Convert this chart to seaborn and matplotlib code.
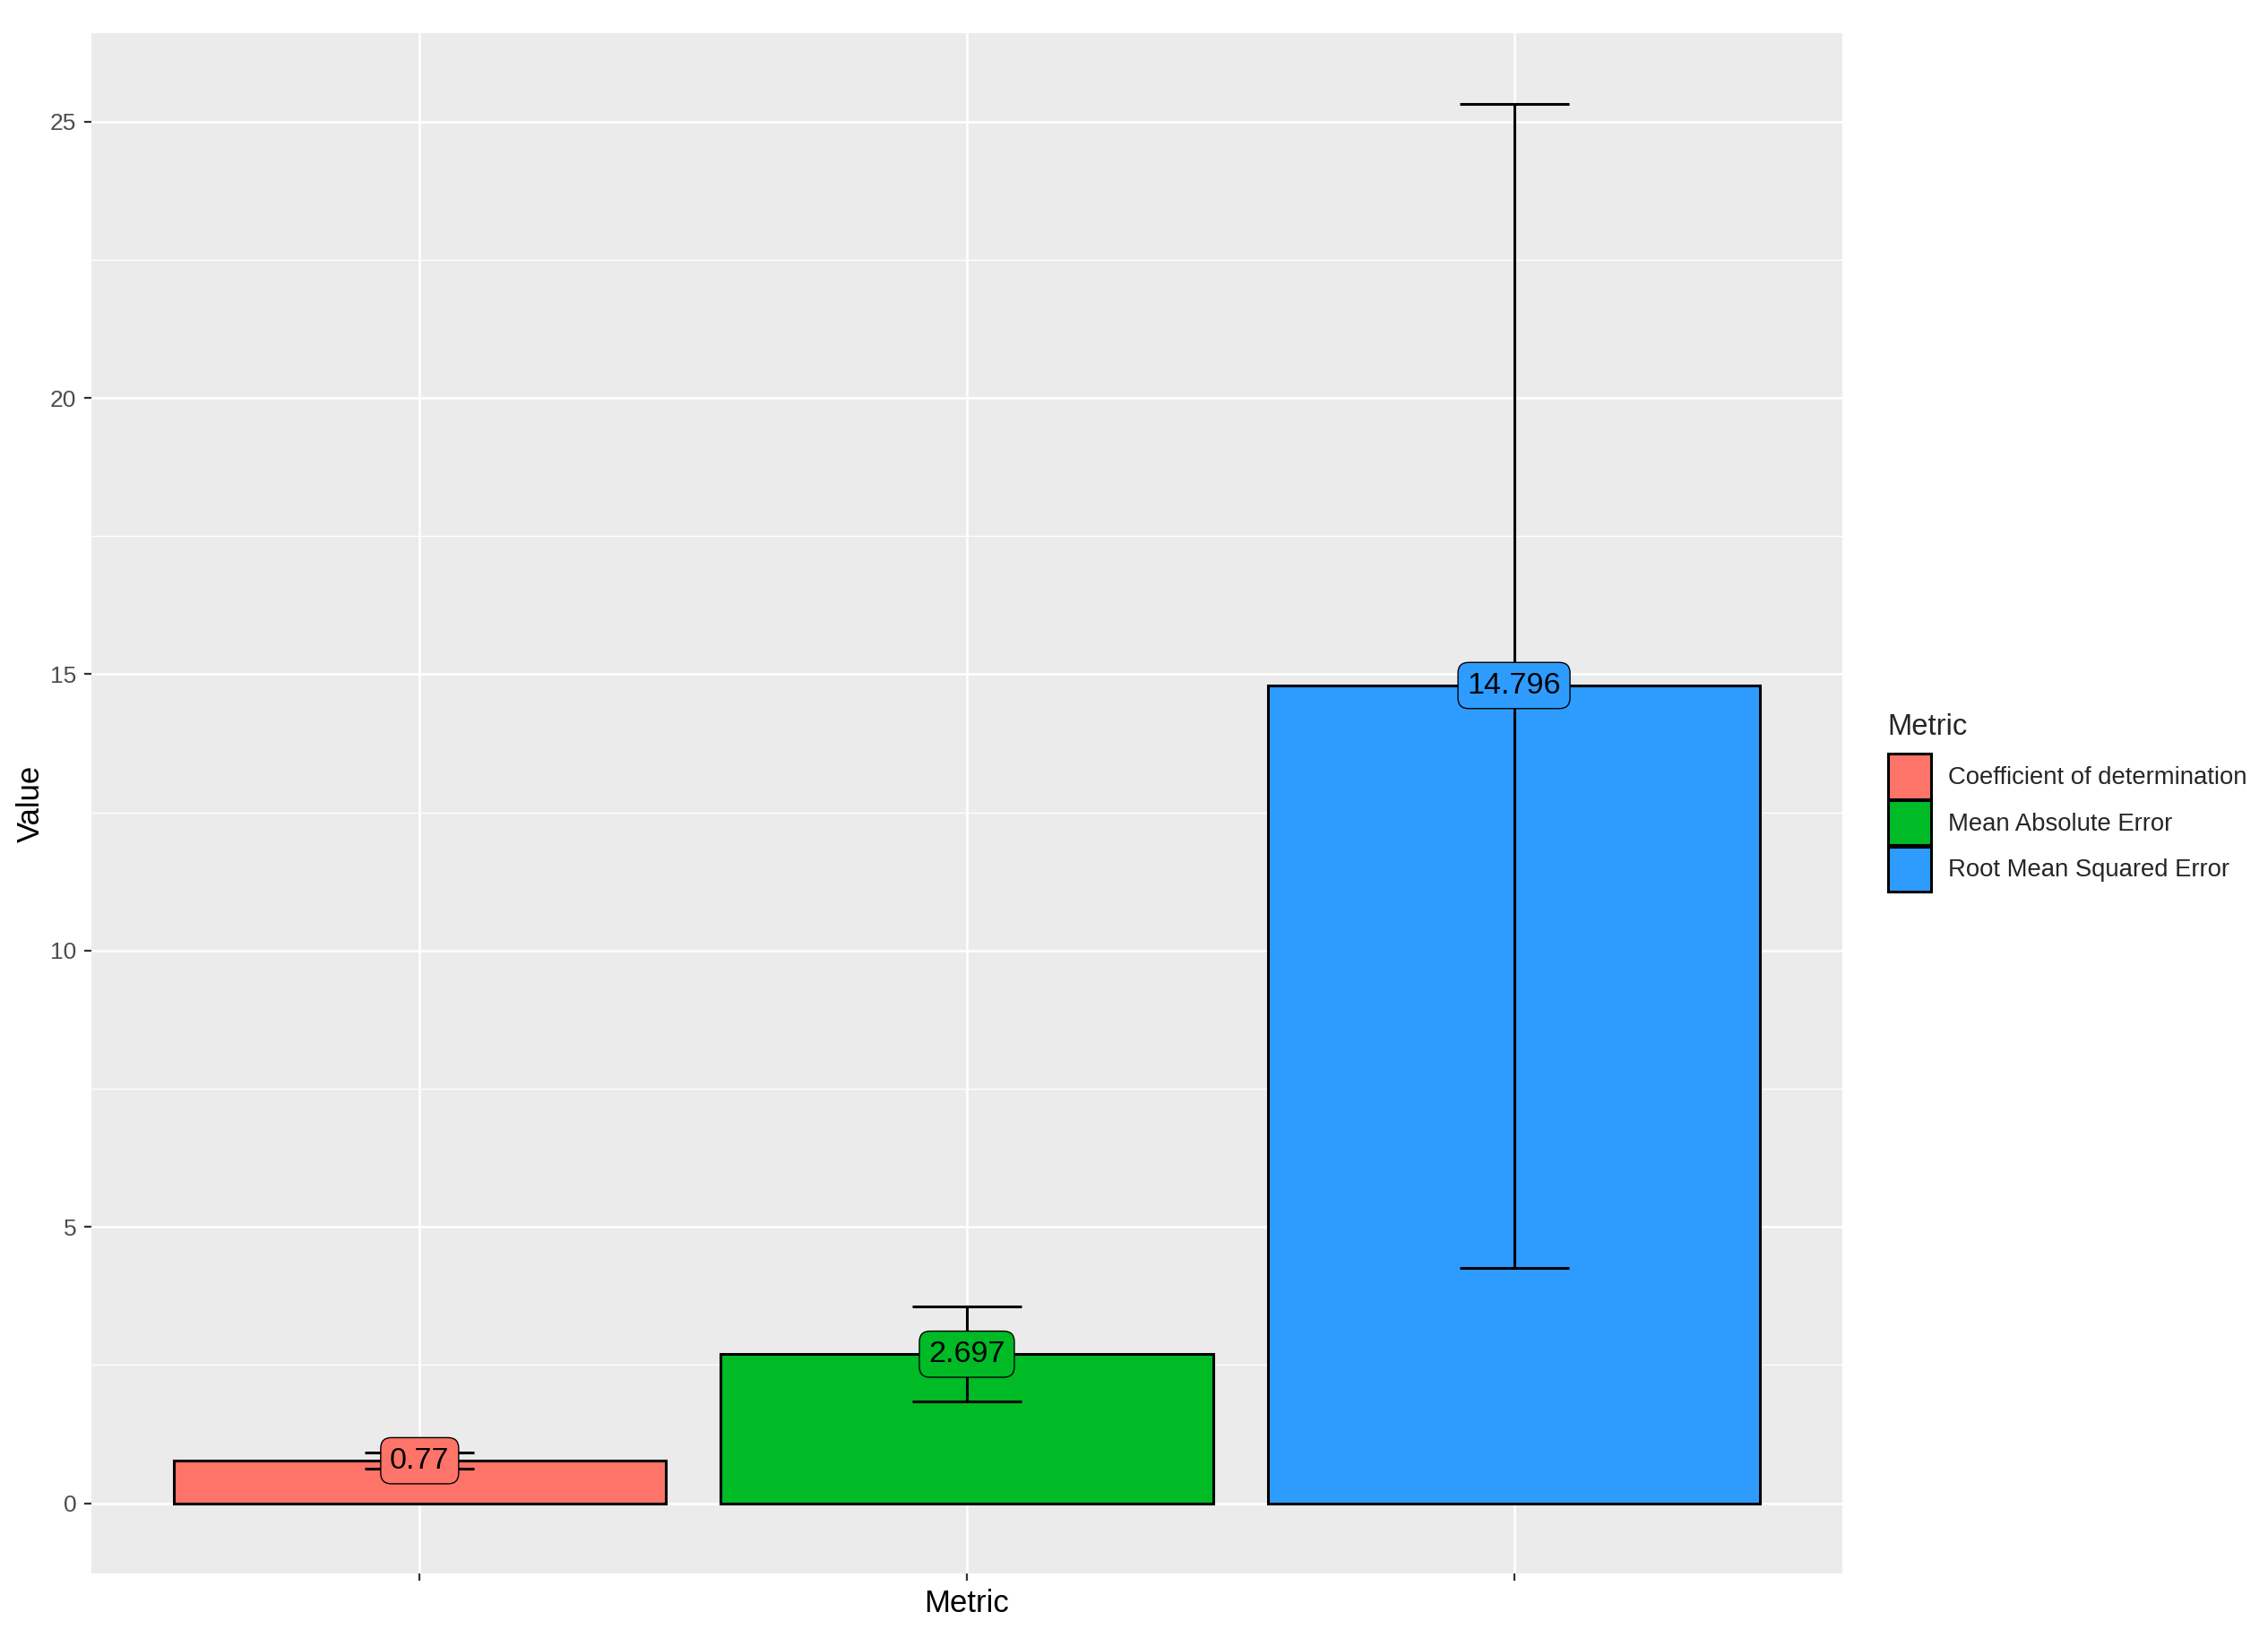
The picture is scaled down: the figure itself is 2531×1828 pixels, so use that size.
import numpy as np
import pandas as pd
import matplotlib
matplotlib.use("Agg")
import matplotlib.pyplot as plt
import seaborn as sns
from matplotlib.patches import Patch
from matplotlib.ticker import MultipleLocator

metrics = ["Coefficient of determination", "Mean Absolute Error", "Root Mean Squared Error"]
values = [0.77, 2.697, 14.796]
errors = [0.15, 0.86, 10.53]
colors = ["#FF7469", "#00BA26", "#2E9CFF"]

df = pd.DataFrame({"Metric": metrics, "Value": values})

sns.set_theme(style="darkgrid", rc={"axes.facecolor": "#EBEBEB", "grid.color": "white"})
plt.rcParams["font.family"] = ["Liberation Sans", "DejaVu Sans"]

fig = plt.figure(figsize=(12.655, 9.14), dpi=200)
ax = fig.add_axes([0.0403, 0.0394, 0.772, 0.9404])

sns.barplot(data=df, x="Metric", y="Value", hue="Metric", palette=colors,
            saturation=1, edgecolor="black", linewidth=1.1, width=0.9, dodge=False,
            errorbar=None, legend=False, ax=ax, zorder=2)

xs = np.arange(len(metrics))
ax.errorbar(xs, values, yerr=errors, fmt="none", ecolor="black",
            elinewidth=1.1, capsize=22, capthick=1.1, zorder=3)

for x, v, c in zip(xs, values, colors):
    ax.text(x, v, f"{v:g}", ha="center", va="center", fontsize=12.3, color="black", zorder=4,
            bbox=dict(boxstyle="round,pad=0.3,rounding_size=0.35", fc=c, ec="black", lw=0.5))

ax.set_xlim(-0.6, 2.6)
ax.set_ylim(-1.27, 26.6)
ax.set_xticks(xs)
ax.set_xticklabels(["", "", ""])
ax.set_yticks([0, 5, 10, 15, 20, 25])
ax.yaxis.set_minor_locator(MultipleLocator(2.5))
ax.grid(which="major", color="white", linewidth=0.9)
ax.grid(which="minor", axis="y", color="white", linewidth=0.45)
ax.grid(which="minor", axis="x", visible=False)
ax.set_axisbelow(True)
ax.tick_params(axis="both", which="major", length=3, width=0.8, color="#333333",
               labelsize=9.5, labelcolor="#4D4D4D", pad=3, bottom=True, left=True)
ax.tick_params(axis="y", which="minor", length=0)
for s in ax.spines.values():
    s.set_visible(False)

ax.set_xlabel("Metric", fontsize=12.5, color="black", labelpad=0)
ax.set_ylabel("Value", fontsize=12.5, color="black", labelpad=2)

handles = [Patch(facecolor=c, edgecolor="black", linewidth=1.1) for c in colors]
leg = fig.legend(handles, metrics, title="Metric", loc="center left",
                 bbox_to_anchor=(0.828, 0.510), frameon=False, fontsize=9.9,
                 title_fontsize=11.8, handlelength=1.75, handleheight=2.45,
                 labelspacing=0.05, handletextpad=0.7, borderaxespad=0)
leg._legend_box.align = "left"
leg._legend_box.sep = 5

fig.savefig("out.png", dpi=200)
